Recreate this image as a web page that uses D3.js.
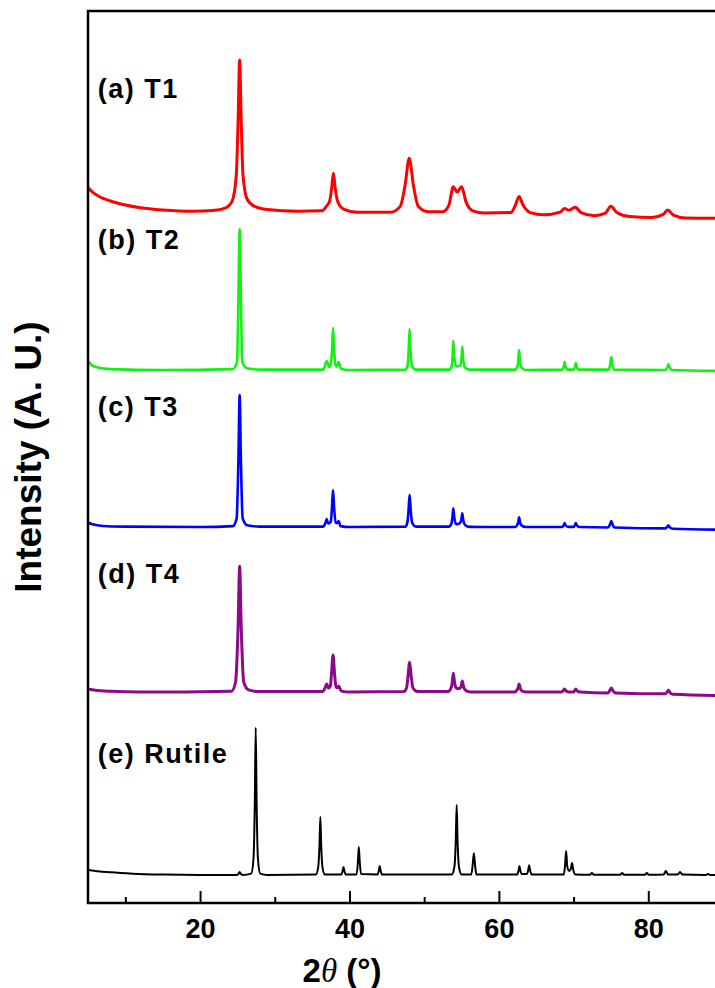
<!DOCTYPE html>
<html>

<head>
    <meta charset="utf-8">
    <style>
        body {
            margin: 0;
            background: #fff;
        }

        svg {
            display: block;
            font-family: Arial, "Liberation Sans", sans-serif;
        }

        .tick line {
            stroke: #000;
            stroke-width: 2px;
        }

        .tick text {
            font-size: 27px;
            font-weight: bold;
            fill: #000;
        }

        .label {
            font-size: 27px;
            font-weight: bold;
            letter-spacing: 1.5px;
        }

        .axis-title {
            font-weight: bold;
        }
    </style>
</head>

<body>
    <svg width="715" height="988"></svg>
</body>

<script src="https://cdnjs.cloudflare.com/ajax/libs/d3/7.8.5/d3.min.js"></script>

<script>
    // 2theta (deg) and intensity above each pattern's own baseline (a.u.)
    let t1Points = [
        [5, 2.8], [5.6, 2.3], [6.5, 1.8], [8, 1.3], [10, 0.85], [12, 0.55], [15, 0.3], [19, 0.15],
        [22, 0.25], [23.5, 0.55], [24.3, 1.3], [24.85, 4.2], [25.1, 10.5], [25.3, 17.1], [25.5, 10.5],
        [25.75, 4.2], [26.3, 1.5], [27.3, 0.7], [29, 0.35], [33, 0.15], [36.3, 0.2], [36.9, 0.7],
        [37.35, 1.3], [37.65, 3.0], [37.85, 4.4], [38.05, 3.0], [38.4, 1.3], [39.2, 0.4], [41, 0.05],
        [45.5, 0.05], [46.8, 0.7], [47.45, 3.1], [48.0, 6.1], [48.55, 3.1], [49.2, 0.7], [50.5, 0.1],
        [52.5, 0.1], [53.3, 0.8], [53.9, 2.9], [54.4, 2.3], [55.0, 2.9], [55.6, 1.2], [56.5, 0.2],
        [58, -0.05], [61.6, 0.0], [62.2, 0.8], [62.7, 1.8], [63.2, 0.9], [64.2, 0.0], [66, -0.25],
        [68.2, 0.05], [68.8, 0.45], [69.4, 0.25], [70.2, 0.6], [71, 0.0], [72.8, -0.35], [74.2, -0.1],
        [75.0, 0.7], [75.8, 0.0], [77.5, -0.45], [80.5, -0.55], [82.0, -0.2], [82.6, 0.3], [83.3, -0.25],
        [85, -0.6], [90, -0.65]
    ]

    let t2Points = [
        [5, 1.0], [5.5, 0.55], [6.5, 0.25], [8, 0.1], [15, 0.0], [24.4, 0.1], [24.95, 0.9], [25.13, 7.9],
        [25.3, 15.8], [25.47, 7.9], [25.65, 0.9], [26.3, 0.2], [28, 0.05], [36.5, 0.05], [36.95, 1.0],
        [37.3, 0.3], [37.55, 1.0], [37.68, 2.4], [37.8, 4.7], [37.93, 2.4], [38.1, 0.7], [38.3, 0.4],
        [38.55, 0.9], [38.85, 0.15], [40, 0], [47.5, 0.05], [47.78, 0.5], [47.93, 2.3], [48.05, 4.6],
        [48.17, 2.3], [48.35, 0.5], [48.8, 0.05], [53.4, 0.05], [53.7, 0.5], [53.8, 1.6], [53.9, 3.25],
        [54.02, 1.6], [54.3, 0.4], [54.8, 0.5], [55.0, 1.3], [55.1, 2.6], [55.22, 1.3], [55.45, 0.3],
        [56, 0.05], [62.2, 0.05], [62.5, 0.45], [62.6, 1.1], [62.7, 2.25], [62.82, 1.1], [63.0, 0.3],
        [63.5, 0.0], [68.5, 0.05], [68.7, 0.45], [68.8, 0.9], [68.92, 0.4], [69.2, 0.05], [70.0, 0.05],
        [70.2, 0.4], [70.3, 0.8], [70.42, 0.35], [70.7, 0.05], [74.7, 0.05], [74.92, 0.7], [75.05, 1.45],
        [75.17, 0.7], [75.4, 0.05], [82.3, 0.0], [82.55, 0.3], [82.7, 0.67], [82.85, 0.3], [83.2, 0.0],
        [90, -0.1]
    ]

    let t3Points = [
        [5, 0.5], [5.6, 0.3], [7, 0.12], [10, 0.05], [20, 0], [24.4, 0.1], [24.9, 1.0], [25.13, 7.4],
        [25.3, 14.8], [25.47, 7.4], [25.7, 1.0], [26.3, 0.2], [28, 0.05], [36.5, 0.05], [36.8, 0.5],
        [36.95, 0.9], [37.15, 0.4], [37.5, 0.6], [37.65, 2.1], [37.8, 4.15], [37.95, 2.1], [38.15, 0.5],
        [38.4, 0.45], [38.55, 0.67], [38.8, 0.1], [40, 0], [47.5, 0.05], [47.75, 0.5], [47.9, 1.8],
        [48.05, 3.6], [48.2, 1.8], [48.4, 0.45], [48.9, 0.05], [53.3, 0.05], [53.65, 0.4], [53.78, 1.05],
        [53.9, 2.1], [54.03, 1.05], [54.3, 0.3], [54.75, 0.4], [54.97, 0.8], [55.1, 1.55], [55.23, 0.75],
        [55.5, 0.2], [56.1, 0.02], [62.2, 0.0], [62.5, 0.3], [62.6, 0.55], [62.7, 1.1], [62.83, 0.55],
        [63.05, 0.15], [63.6, 0.0], [68.5, 0.0], [68.7, 0.25], [68.8, 0.45], [68.92, 0.2], [69.3, 0.02],
        [70.0, 0.02], [70.2, 0.25], [70.3, 0.45], [70.42, 0.2], [70.8, 0.0], [74.6, -0.05], [74.9, 0.35],
        [75.05, 0.67], [75.2, 0.3], [75.5, -0.05], [82.3, -0.15], [82.55, 0.05], [82.7, 0.2], [82.85, 0.0],
        [83.3, -0.2], [90, -0.3]
    ]

    let t4Points = [
        [5, 0.35], [6, 0.2], [8, 0.08], [12, 0.0], [24.2, 0.1], [24.75, 1.1], [25.08, 7.0], [25.3, 14.1],
        [25.52, 7.0], [25.85, 1.1], [26.5, 0.25], [28, 0.05], [36.4, 0.05], [36.75, 0.5], [36.95, 0.9],
        [37.2, 0.45], [37.45, 0.7], [37.6, 2.1], [37.8, 4.15], [38.0, 2.1], [38.2, 0.55], [38.4, 0.5],
        [38.55, 0.67], [38.9, 0.1], [40, 0.0], [47.3, 0.05], [47.65, 0.5], [47.83, 1.7], [48.05, 3.35],
        [48.27, 1.7], [48.5, 0.45], [49.1, 0.05], [53.2, 0.05], [53.6, 0.45], [53.75, 1.05], [53.9, 2.1],
        [54.07, 1.05], [54.35, 0.4], [54.75, 0.4], [54.95, 0.65], [55.1, 1.25], [55.27, 0.6], [55.6, 0.15],
        [56.3, 0.0], [62.1, 0.0], [62.45, 0.25], [62.57, 0.45], [62.7, 0.9], [62.85, 0.45], [63.1, 0.1],
        [63.7, 0.0], [68.4, 0.0], [68.65, 0.2], [68.8, 0.35], [68.95, 0.15], [69.4, 0.0], [70.0, 0.0],
        [70.15, 0.2], [70.3, 0.35], [70.45, 0.15], [70.9, 0.0], [74.6, -0.1], [74.9, 0.25], [75.05, 0.45],
        [75.2, 0.25], [75.6, -0.1], [82.3, -0.2], [82.55, 0.05], [82.7, 0.2], [82.85, 0.0], [83.3, -0.25],
        [90, -0.4]
    ]

    let rutilePoints = [
        [5, 0.55], [6, 0.45], [8, 0.3], [11, 0.15], [15, 0.05], [20, 0], [24.9, 0], [25.15, 0.12],
        [25.3, 0.34], [25.45, 0.12], [25.7, 0], [26.85, 0.15], [27.15, 1.8], [27.33, 8.2], [27.45, 16.5],
        [27.57, 8.2], [27.75, 1.8], [28.05, 0.15], [29, 0.0], [35.5, 0.05], [35.8, 0.8], [35.98, 3.2],
        [36.1, 6.5], [36.22, 3.2], [36.4, 0.8], [36.7, 0.05], [38.9, 0.05], [39.08, 0.45], [39.2, 0.9],
        [39.32, 0.45], [39.5, 0.05], [40.95, 0.05], [41.13, 1.5], [41.25, 3.15], [41.37, 1.5], [41.55, 0.1],
        [43.75, 0.05], [43.93, 0.5], [44.05, 1.0], [44.17, 0.5], [44.35, 0.05], [53.7, 0.05], [54.05, 0.95],
        [54.23, 3.9], [54.35, 7.85], [54.47, 3.9], [54.65, 0.95], [55.0, 0.05], [56.3, 0.05], [56.5, 1.2],
        [56.65, 2.45], [56.8, 1.2], [57.0, 0.05], [62.45, 0.05], [62.63, 0.5], [62.75, 1.0], [62.87, 0.5],
        [63.1, 0.1], [63.75, 0.1], [63.93, 0.55], [64.05, 1.1], [64.17, 0.55], [64.4, 0.05], [68.7, 0.05],
        [68.88, 1.35], [69.0, 2.7], [69.15, 1.0], [69.4, 0.45], [69.65, 0.75], [69.8, 1.35], [69.95, 0.6],
        [70.25, 0.05], [72.2, 0.02], [72.45, 0.22], [72.7, 0.02], [76.25, 0.02], [76.5, 0.22], [76.75, 0.02],
        [79.55, 0.02], [79.8, 0.22], [80.05, 0.02], [82.05, 0.05], [82.35, 0.45], [82.65, 0.05],
        [83.95, 0.05], [84.25, 0.34], [84.55, 0.05], [87.7, 0.0], [88.0, 0.11], [88.3, 0.0], [90, 0]
    ]

    let seriesLabels = ["(a) T1", "(b) T2", "(c) T3", "(d) T4", "(e) Rutile"]
    let seriesOffsets = [77.4, 59.75, 42.15, 23.65, 3.14]   // vertical stacking, a.u.
    let labelLevels = [90.3, 73.3, 54.6, 35.9, 15.7]         // a.u., where each label sits
    let majorTicks = [20, 40, 60, 80]
    let minorTicks = [10, 30, 50, 70, 90]

    let series = [t1Points, t2Points, t3Points, t4Points, rutilePoints]

    let colors = ["#ff0000", "#14f014", "#0000ff", "#8a0a8a", "#000000"]
    let strokeWidths = [3, 2.6, 2.6, 3, 2]

    let svg = d3.select("svg")

    let margin = { top: 11, left: 88, bottom: 85 }
    let height = 988

    // the original plot runs a little past the right edge of the picture
    let x = d3.scaleLinear()
        .domain([5, 90])
        .range([margin.left, 723])

    let y = d3.scaleLinear()
        .domain([0, 100])
        .range([height - margin.bottom, margin.top])

    let line = d3.line()
        .curve(d3.curveMonotoneX)

    series.forEach(function (pts, i) {
        line.x(d => x(d[0])).y(d => y(seriesOffsets[i] + d[1]))
        svg.append("path")
            .datum(pts)
            .attr("fill", "none")
            .attr("stroke", colors[i])
            .attr("stroke-width", strokeWidths[i])
            .attr("stroke-linejoin", "round")
            .attr("d", line)
    })

    svg.selectAll(".label")
        .data(seriesLabels)
        .join("text")
        .attr("class", "label")
        .attr("x", x(6.3))
        .attr("y", (d, i) => y(labelLevels[i]))
        .text(d => d)

    // minor ticks
    svg.append("g")
        .attr("transform", `translate(0,${y(0)})`)
        .call(d3.axisBottom(x).tickValues(minorTicks).tickSize(-6).tickFormat(""))
        .call(g => g.select(".domain").remove())

    svg.append("g")
        .attr("class", "x axis")
        .attr("transform", `translate(0,${y(0)})`)
        .call(d3.axisBottom(x).tickValues(majorTicks).tickSize(-12).tickPadding(16).tickFormat(d3.format("d")))
        .call(g => g.select(".domain").remove())

    // frame (right side falls outside the picture)
    svg.append("rect")
        .attr("x", x(5))
        .attr("y", y(100))
        .attr("width", x(90) - x(5))
        .attr("height", y(0) - y(100))
        .attr("fill", "none")
        .attr("stroke", "#000")
        .attr("stroke-width", 2.5)

    let xTitle = svg.append("text")
        .attr("class", "axis-title")
        .attr("x", 342)
        .attr("y", 982)
        .attr("text-anchor", "middle")
        .style("font-size", "33px")
    xTitle.append("tspan").text("2")
    xTitle.append("tspan")
        .style("font-family", "'Liberation Serif', 'Times New Roman', serif")
        .style("font-style", "italic")
        .style("font-weight", "normal")
        .text("θ")
    xTitle.append("tspan").text(" (°)")

    svg.append("text")
        .attr("class", "axis-title")
        .attr("transform", "translate(41,457) rotate(-90)")
        .attr("text-anchor", "middle")
        .style("font-size", "37px")
        .text("Intensity (A. U.)")
</script>

</html>
